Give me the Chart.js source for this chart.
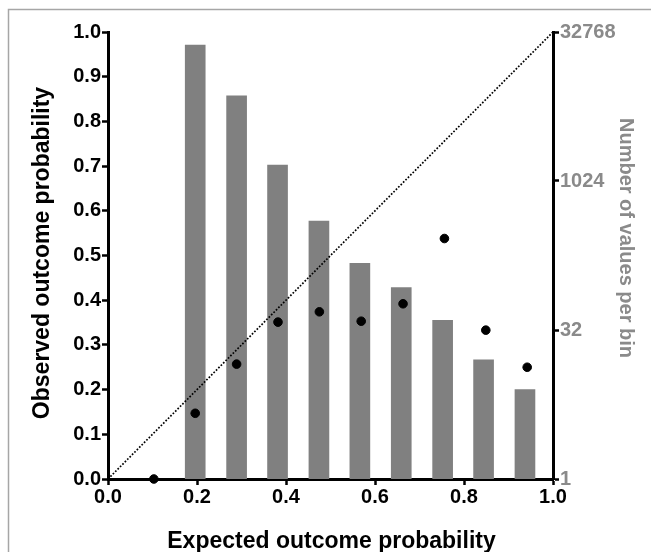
<!DOCTYPE html>
<html>
<head>
<meta charset="utf-8">
<script src="https://cdn.jsdelivr.net/npm/chart.js@4/dist/chart.umd.min.js"></script>
<style>
  html, body { margin: 0; padding: 0; background: #fff; }
  #wrap { width: 651px; height: 552px; }
</style>
</head>
<body>
<div id="wrap"><canvas id="c" width="651" height="552"></canvas></div>
<script>
// Calibration bins: centre of each bin and how many predictions fell in it
const binCenters = [0.196, 0.289, 0.381, 0.474, 0.566, 0.659, 0.752, 0.844, 0.937];
const binCounts  = [24200, 7440, 1480, 404, 151, 86, 40, 16, 8];

// Mean expected vs observed outcome probability per bin
const expectedProb = [0.103, 0.196, 0.289, 0.382, 0.475, 0.569, 0.663, 0.756, 0.849, 0.942];
const observedProb = [0.000, 0.147, 0.257, 0.351, 0.374, 0.353, 0.392, 0.538, 0.333, 0.250];

// Perfect-calibration reference line
const identityLine = [0, 1];

// Right-hand axis ticks (powers of two)
const countTicks = [1, 32, 1024, 32768];

const FONT = "'Liberation Sans', Arial, Helvetica, sans-serif";
const GREY = '#8a8a8a';

const frameAndTitles = {
  id: 'frameAndTitles',
  beforeDraw(chart) {
    const ctx = chart.ctx;
    ctx.save();
    ctx.strokeStyle = '#a6a6a6';
    ctx.lineWidth = 1.5;
    ctx.beginPath();
    ctx.moveTo(8.5, 552);
    ctx.lineTo(8.5, 9.5);
    ctx.lineTo(651, 9.5);
    ctx.stroke();
    ctx.restore();
  },
  afterDraw(chart) {
    const ctx = chart.ctx;
    const a = chart.chartArea;
    ctx.save();
    ctx.fillStyle = '#000';
    ctx.font = 'bold 23px ' + FONT;
    ctx.textAlign = 'center';
    ctx.textBaseline = 'alphabetic';
    ctx.fillText('Expected outcome probability', (a.left + a.right) / 2 + 1, 548);

    ctx.save();
    ctx.translate(49, 253);
    ctx.rotate(-Math.PI / 2);
    ctx.fillText('Observed outcome probability', 0, 0);
    ctx.restore();

    ctx.save();
    ctx.fillStyle = GREY;
    ctx.font = 'bold 20px ' + FONT;
    ctx.translate(620, 238);
    ctx.rotate(Math.PI / 2);
    ctx.fillText('Number of values per bin', 0, 0);
    ctx.restore();
    ctx.restore();
  }
};

const tickFont = { family: FONT, size: 20, weight: 'bold' };

new Chart(document.getElementById('c'), {
  type: 'bar',
  data: {
    datasets: [
      {
        type: 'scatter',
        data: expectedProb.map((x, i) => ({ x, y: observedProb[i] })),
        xAxisID: 'x', yAxisID: 'y',
        backgroundColor: '#000', borderColor: '#000',
        pointRadius: 4.3, pointHoverRadius: 4.3,
        clip: false,
        order: 1
      },
      {
        type: 'line',
        data: identityLine.map(v => ({ x: v, y: v })),
        xAxisID: 'x', yAxisID: 'y',
        borderColor: '#000', borderWidth: 1.7,
        borderDash: [1.7, 1.7],
        pointRadius: 0, fill: false,
        order: 2
      },
      {
        type: 'bar',
        data: binCenters.map((x, i) => ({ x, y: binCounts[i] })),
        xAxisID: 'x', yAxisID: 'y2',
        backgroundColor: '#808080',
        borderWidth: 0,
        barThickness: 20,
        grouped: false,
        order: 3
      }
    ]
  },
  options: {
    responsive: false,
    animation: false,
    events: [],
    layout: { padding: { top: 32, left: 0, right: 0, bottom: 0 } },
    plugins: { legend: { display: false }, tooltip: { enabled: false } },
    scales: {
      x: {
        type: 'linear', position: 'bottom', min: 0, max: 1, offset: false,
        afterFit(s) { s.height = 73; },
        ticks: { stepSize: 0.2, color: '#000', font: tickFont, padding: 0,
                 maxRotation: 0, callback: v => v.toFixed(1) },
        grid: { display: true, drawOnChartArea: false, drawTicks: true, offset: false,
                tickLength: 6, tickWidth: 2.5, tickColor: '#000' },
        border: { display: true, color: '#000', width: 3 }
      },
      y: {
        type: 'linear', position: 'left', min: 0, max: 1,
        afterFit(s) { s.width = 108; },
        ticks: { stepSize: 0.1, color: '#000', font: tickFont, padding: 1,
                 callback: v => v.toFixed(1) },
        grid: { display: true, drawOnChartArea: false, drawTicks: true,
                tickLength: 6, tickWidth: 2.5, tickColor: '#000' },
        border: { display: true, color: '#000', width: 3 }
      },
      y2: {
        type: 'logarithmic', position: 'right', min: 1, max: 32768,
        afterFit(s) { s.width = 98; },
        afterBuildTicks(s) { s.ticks = countTicks.map(v => ({ value: v })); },
        ticks: { color: GREY, font: tickFont, padding: 1,
                 callback: v => String(v) },
        grid: { display: true, drawOnChartArea: false, drawTicks: true,
                tickLength: 6, tickWidth: 2.5, tickColor: '#000' },
        border: { display: true, color: '#000', width: 3 }
      }
    }
  },
  plugins: [frameAndTitles]
});
</script>
</body>
</html>
